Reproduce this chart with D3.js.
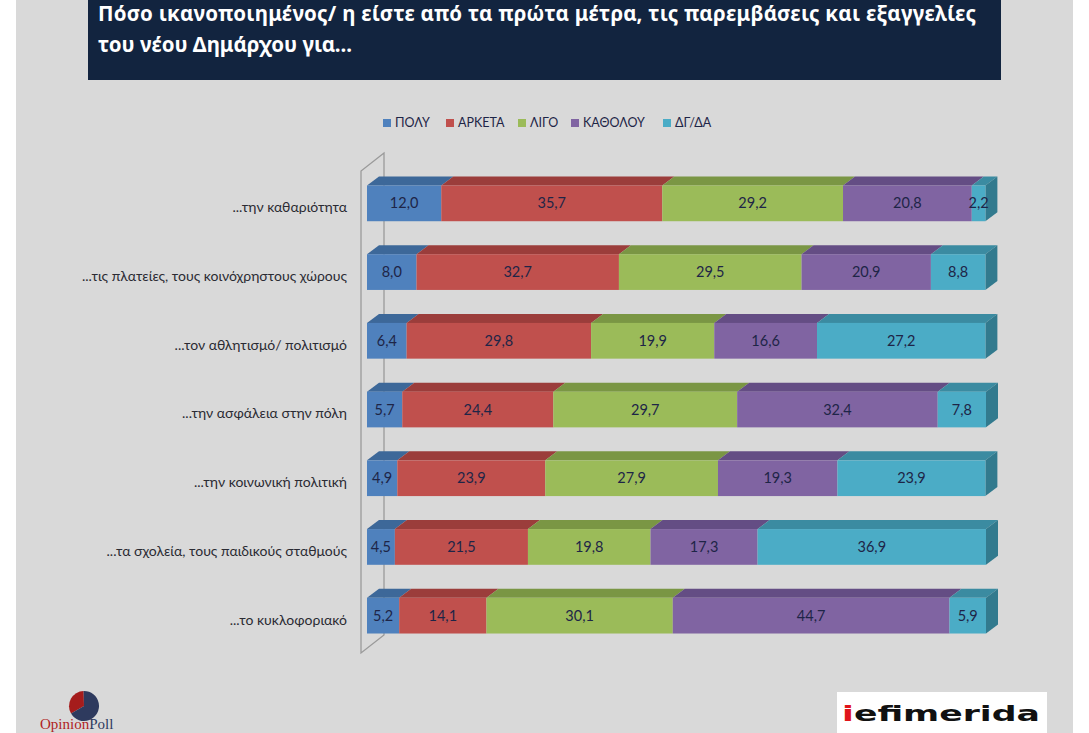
<!DOCTYPE html>
<html>
<head>
<meta charset="utf-8">
<script src="https://cdn.jsdelivr.net/npm/d3@7"></script>
<style>
  html, body { margin: 0; padding: 0; background: #ffffff; }
  svg { display: block; }
  .cat-label { font-family: Lato, "Open Sans", sans-serif; font-size: 14px; fill: #2b2b33; }
  .val-label { font-family: Lato, "Open Sans", sans-serif; font-size: 14.5px; fill: #1e2547; }
  .legend-label { font-family: Lato, "Open Sans", sans-serif; font-size: 12.5px; fill: #1e2547; }
  .title { font-family: "Noto Sans", "Open Sans", sans-serif; font-weight: 700; font-size: 20.5px; fill: #ffffff; }
</style>
</head>
<body>
<div id="chart"></div>
<script>
const categories = [
  '...την καθαριότητα',
  '...τις πλατείες, τους κοινόχρηστους χώρους',
  '...τον αθλητισμό/ πολιτισμό',
  '...την ασφάλεια στην πόλη',
  '...την κοινωνική πολιτική',
  '...τα σχολεία, τους παιδικούς σταθμούς',
  '...το κυκλοφοριακό'
];
const seriesNames = ['ΠΟΛΥ', 'ΑΡΚΕΤΑ', 'ΛΙΓΟ', 'ΚΑΘΟΛΟΥ', 'ΔΓ/ΔΑ'];
const poly    = [12.0,  8.0,  6.4,  5.7,  4.9,  4.5,  5.2];
const arketa  = [35.7, 32.7, 29.8, 24.4, 23.9, 21.5, 14.1];
const ligo    = [29.2, 29.5, 19.9, 29.7, 27.9, 19.8, 30.1];
const katholou= [20.8, 20.9, 16.6, 32.4, 19.3, 17.3, 44.7];
const dgda    = [ 2.2,  8.8, 27.2,  7.8, 23.9, 36.9,  5.9];
const titleLines = [
  'Πόσο ικανοποιημένος/ η είστε από τα πρώτα μέτρα, τις παρεμβάσεις και εξαγγελίες',
  'του νέου Δημάρχου για...'
];

const colors    = ['#4f81bd', '#c0504d', '#9bbb59', '#8064a2', '#4bacc6'];
const topColors = ['#3d6899', '#9b3d3b', '#7a9644', '#644d84', '#3b8ba1'];
const sideColor = '#327a8e';

const W = 1089, H = 733;
const svg = d3.select('#chart').append('svg').attr('width', W).attr('height', H);

// panel + title box
svg.append('rect').attr('x', 16).attr('y', 0).attr('width', 1057).attr('height', H).attr('fill', '#d9d9d9');
svg.append('rect').attr('x', 88).attr('y', 0).attr('width', 913).attr('height', 80).attr('fill', '#12243f');
svg.selectAll('.title').data(titleLines).join('text')
  .attr('class', 'title')
  .attr('x', 98).attr('y', (d, i) => 21 + i * 31)
  .each(function(d, i) {
    if (i === 0) d3.select(this).attr('textLength', 878).attr('lengthAdjust', 'spacing');
  })
  .text(d => d);

// stacked data
const rows = categories.map((c, i) => ({
  cat: c, vals: [poly[i], arketa[i], ligo[i], katholou[i], dgda[i]]
}));
const stackData = rows.map(r => {
  let acc = 0;
  return r.vals.map((v, k) => { const s = { cat: r.cat, k, x0: acc, x1: acc + v, v }; acc += v; return s; });
});

const x = d3.scaleLinear().domain([0, 100]).range([367, 986]);
const y = d3.scaleBand().domain(categories).range([169, 650]).paddingInner(0.48).paddingOuter(0.24);
const dx = 12, dy = -9;

// wall (3D axis plane)
const wallTop = 153, wallBot = 635;
svg.append('path')
  .attr('d', `M${x(0) + 17},${wallTop} L${x(0) - 6},${wallTop + 18} L${x(0) - 6},${wallBot + 18} L${x(0) + 17},${wallBot} Z`)
  .attr('fill', 'none').attr('stroke', '#9a9a9a').attr('stroke-width', 1.3);

const g = svg.append('g');
const rowG = g.selectAll('.row').data(stackData).join('g').attr('class', 'row');

// top faces
rowG.selectAll('.top').data(d => d).join('path')
  .attr('class', 'top')
  .attr('fill', d => topColors[d.k])
  .attr('d', d => {
    const y0 = y(d.cat), a = x(d.x0), b = x(d.x1);
    return `M${a},${y0} L${a + dx},${y0 + dy} L${b + dx},${y0 + dy} L${b},${y0} Z`;
  });

// side face at the end of each bar
rowG.append('path')
  .attr('fill', sideColor)
  .attr('d', d => {
    const last = d[d.length - 1], y0 = y(last.cat), b = x(last.x1), h = y.bandwidth();
    return `M${b},${y0} L${b + dx},${y0 + dy} L${b + dx},${y0 + h + dy} L${b},${y0 + h} Z`;
  });

// front faces
rowG.selectAll('.front').data(d => d).join('rect')
  .attr('class', 'front')
  .attr('x', d => x(d.x0))
  .attr('y', d => y(d.cat))
  .attr('width', d => x(d.x1) - x(d.x0))
  .attr('height', y.bandwidth())
  .attr('fill', d => colors[d.k]);

// value labels
rowG.selectAll('.val-label').data(d => d).join('text')
  .attr('class', 'val-label')
  .attr('x', d => (x(d.x0) + x(d.x1)) / 2)
  .attr('y', d => y(d.cat) + y.bandwidth() / 2)
  .attr('dy', '0.35em')
  .attr('text-anchor', 'middle')
  .text(d => d3.format('.1f')(d.v).replace('.', ','));

// category labels
svg.selectAll('.cat-label').data(categories).join('text')
  .attr('class', 'cat-label')
  .attr('x', 347)
  .attr('y', d => y(d) + y.bandwidth() / 2 + 4)
  .attr('dy', '0.35em')
  .attr('text-anchor', 'end')
  .text(d => d);

// legend
const legendX = [383, 446, 518, 571, 663];
const lg = svg.selectAll('.legend').data(seriesNames).join('g')
  .attr('class', 'legend')
  .attr('transform', (d, i) => `translate(${legendX[i]},118)`);
lg.append('rect').attr('width', 8).attr('height', 8).attr('y', 1).attr('fill', (d, i) => colors[i]);
lg.append('text').attr('class', 'legend-label').attr('x', 12).attr('y', 5).attr('dy', '0.35em').text(d => d);

// Opinion Poll logo
const pieData = [0.33, 0.67];
const arc = d3.arc().innerRadius(0).outerRadius(15);
const pie = d3.pie().sort(null).startAngle(-2.1).endAngle(-2.1 + Math.PI * 2);
svg.append('g').attr('transform', 'translate(84,706)')
  .selectAll('path').data(pie(pieData)).join('path')
  .attr('d', arc).attr('fill', (d, i) => i === 0 ? '#a51c1c' : '#2e3a5e');
const lt = svg.append('text').attr('x', 40).attr('y', 729)
  .style('font-family', '"Liberation Serif", serif').style('font-size', '15px');
lt.append('tspan').attr('fill', '#b01e1e').text('Opinion');
lt.append('tspan').attr('fill', '#2e3a5e').text('Poll');

// iefimerida logo
svg.append('rect').attr('x', 837).attr('y', 692).attr('width', 210).attr('height', 41).attr('fill', '#ffffff');
const ie = svg.append('text').attr('x', 842).attr('y', 721)
  .style('font-family', '"DejaVu Sans", sans-serif').style('font-weight', 900).style('font-size', '22px')
  .attr('textLength', 198).attr('lengthAdjust', 'spacingAndGlyphs');
ie.append('tspan').attr('fill', '#e0141a').text('i');
ie.append('tspan').attr('fill', '#111111').text('efimerida');
</script>
</body>
</html>
